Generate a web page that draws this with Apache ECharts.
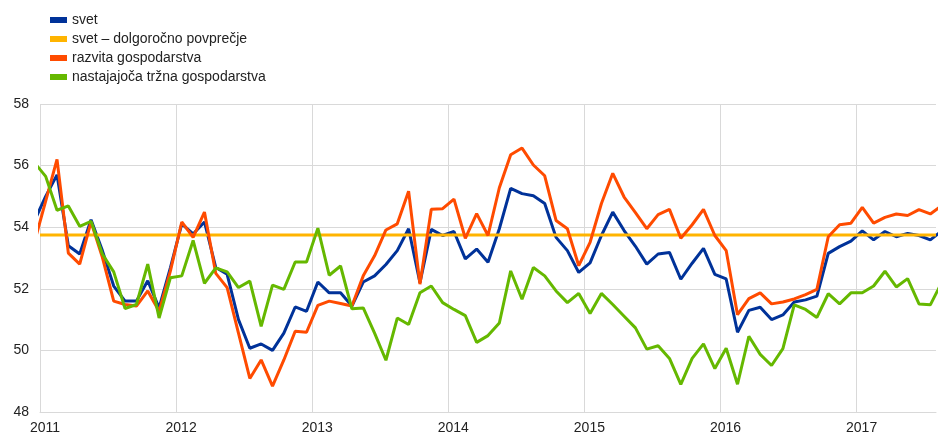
<!DOCTYPE html>
<html>
<head>
<meta charset="utf-8">
<script src="https://cdn.jsdelivr.net/npm/echarts@6/dist/echarts.min.js"></script>
<style>
  html, body { margin: 0; padding: 0; background: #fff; }
  #chart { width: 939px; height: 435px; }
</style>
</head>
<body>
<div id="chart"></div>
<script>
// monthly values, first = Dec 2010, last = Aug 2017 (both cut by the plot edges)
const firstMonth = -1 // months after Jan 2011
const yearLabels = ['2011', '2012', '2013', '2014', '2015', '2016', '2017']

const svet = [
  54.2, 55.0, 55.7, 53.4, 53.13, 54.24, 53.24, 52.09, 51.6, 51.6, 52.26, 51.38, 52.69,
  54.11, 53.78, 54.17, 52.69, 52.47, 51.0, 50.07, 50.21, 50.0, 50.56, 51.41, 51.27,
  52.22, 51.87, 51.87, 51.44, 52.22, 52.42, 52.79, 53.24, 53.95, 52.2, 53.93, 53.73,
  53.86, 52.97, 53.29, 52.86, 53.95, 55.26, 55.09, 55.02, 54.77, 53.67, 53.24, 52.53,
  52.84, 53.73, 54.49, 53.89, 53.38, 52.8, 53.13, 53.18, 52.31, 52.83, 53.31, 52.47,
  52.32, 50.59, 51.3, 51.4, 51.0, 51.15, 51.57, 51.64, 51.76, 53.15, 53.37, 53.55,
  53.88, 53.59, 53.86, 53.69, 53.8, 53.73, 53.59, 53.88
]
const svetPovprecje = 53.75
const razvita = [
  53.5, 54.85, 56.2, 53.16, 52.8, 54.17, 53.02, 51.6, 51.49, 51.44, 51.93, 51.27, 52.58,
  54.17, 53.67, 54.49, 52.5, 52.04, 50.56, 49.09, 49.69, 48.84, 49.69, 50.62, 50.59,
  51.46, 51.6, 51.52, 51.44, 52.42, 53.07, 53.91, 54.11, 55.17, 52.15, 54.58, 54.6,
  54.91, 53.64, 54.44, 53.73, 55.28, 56.35, 56.57, 56.02, 55.67, 54.22, 53.95, 52.75,
  53.51, 54.77, 55.75, 54.98, 54.47, 53.95, 54.41, 54.58, 53.64, 54.08, 54.58, 53.73,
  53.24, 51.16, 51.68, 51.87, 51.51, 51.57, 51.67, 51.81, 51.98, 53.69, 54.08, 54.13,
  54.64, 54.13, 54.32, 54.43, 54.38, 54.57, 54.43, 54.7
]
const nastajajoca = [
  56.1, 55.65, 54.55, 54.69, 54.03, 54.19, 53.13, 52.55, 51.36, 51.49, 52.8, 51.05, 52.36,
  52.42, 53.57, 52.18, 52.68, 52.55, 52.04, 52.25, 50.78, 52.12, 51.98, 52.87, 52.87,
  53.97, 52.44, 52.74, 51.35, 51.38, 50.56, 49.68, 51.05, 50.84, 51.87, 52.09, 51.55,
  51.33, 51.13, 50.26, 50.48, 50.89, 52.58, 51.66, 52.69, 52.42, 51.93, 51.55, 51.85,
  51.2, 51.85, 51.49, 51.11, 50.73, 50.04, 50.15, 49.74, 48.9, 49.74, 50.21, 49.41,
  50.07, 48.9, 50.46, 49.87, 49.51, 50.06, 51.48, 51.33, 51.07, 51.84, 51.51, 51.87,
  51.87, 52.09, 52.57, 52.06, 52.33, 51.51, 51.48, 52.2
]

const axisMin = 0
const axisMax = 79

// each month is drawn at its middle
const toPoints = (arr) => arr.map((v, i) => [firstMonth + i + 0.5, v])

const chart = echarts.init(document.getElementById('chart'))
const font = "'Liberation Sans', Arial, sans-serif"
const gridColor = '#d9d9d9'

const line = (name, data, color) => ({
  name: name,
  type: 'line',
  data: data,
  showSymbol: false,
  clip: true,
  lineStyle: { width: 3, color: color },
  itemStyle: { color: color },
  emphasis: { disabled: true },
})

chart.setOption({
  animation: false,
  legend: {
    orient: 'vertical',
    left: 45,
    top: 8,
    icon: 'rect',
    itemWidth: 17,
    itemHeight: 6,
    itemGap: 5,
    textStyle: { fontFamily: font, fontSize: 14, color: '#222' },
    data: ['svet', 'svet – dolgoročno povprečje', 'razvita gospodarstva', 'nastajajoča tržna gospodarstva'],
  },
  grid: { left: 40, right: 0, top: 104, bottom: 23 },
  xAxis: {
    type: 'value',
    min: axisMin,
    max: axisMax,
    interval: 12,
    axisLine: { show: true, lineStyle: { color: gridColor } },
    axisTick: { show: false },
    splitLine: {
      show: true,
      // year lines only, no line on the cut-off right edge
      lineStyle: { color: [gridColor, gridColor, gridColor, gridColor, gridColor, gridColor, gridColor, 'rgba(0,0,0,0)'] },
    },
    axisLabel: {
      fontFamily: font,
      fontSize: 14,
      color: '#222',
      margin: 9,
      padding: [0, 0, 0, 10],
      formatter: (v) => (v % 12 === 0 ? yearLabels[v / 12] : ''),
    },
  },
  yAxis: {
    type: 'value',
    min: 48,
    max: 58,
    interval: 2,
    axisLine: { show: false },
    axisTick: { show: false },
    splitLine: { lineStyle: { color: gridColor } },
    axisLabel: { fontFamily: font, fontSize: 14, color: '#222', margin: 11 },
  },
  series: [
    line('svet', toPoints(svet), '#003299'),
    line('svet – dolgoročno povprečje', [[axisMin, svetPovprecje], [axisMax, svetPovprecje]], '#FFB400'),
    line('razvita gospodarstva', toPoints(razvita), '#FF4B00'),
    line('nastajajoča tržna gospodarstva', toPoints(nastajajoca), '#65B800'),
  ],
})
</script>
</body>
</html>
